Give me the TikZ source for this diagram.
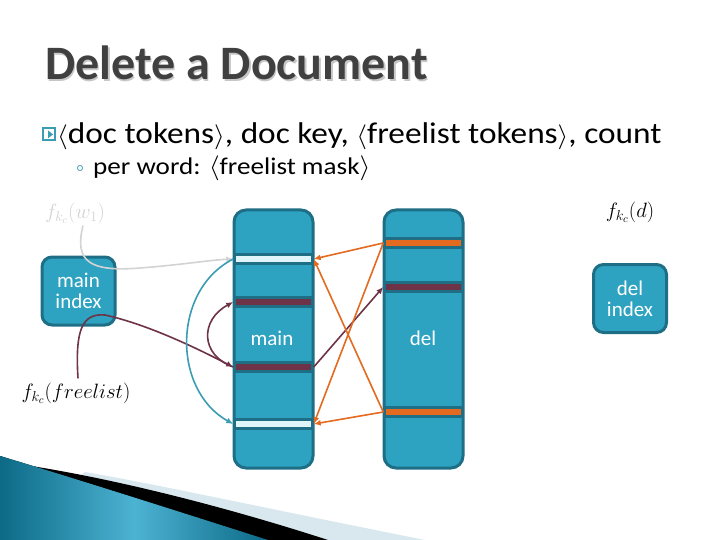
\documentclass[tikz,border=0pt]{standalone}
\usepackage{fontspec}
\setmainfont{Carlito}
\usetikzlibrary{arrows.meta}
\definecolor{tealfill}{HTML}{2DA2C1}
\definecolor{tealborder}{HTML}{1E6F86}
\definecolor{maroon}{HTML}{6E3346}
\definecolor{orangeC}{HTML}{E36A1F}
\definecolor{lightbar}{HTML}{E0F5FA}
\definecolor{tealcurve}{HTML}{3A9DB3}
\definecolor{graycurve}{HTML}{D3D3D3}
\definecolor{titlecol}{HTML}{404040}
\definecolor{swlight}{HTML}{D8E8EE}
\definecolor{swdark}{HTML}{0C6A86}
\definecolor{swmid}{HTML}{4DB3D3}
\tikzset{
  column/.style={draw=tealborder, fill=tealfill, line width=3pt, rounded corners=12pt, minimum width=79pt, minimum height=258pt, inner sep=0pt},
  idxbox/.style={draw=tealborder, fill=tealfill, line width=3pt, rounded corners=10pt, minimum width=73pt, minimum height=68pt, inner sep=0pt, text=white, align=center, font=\fontsize{21}{21}\selectfont},
  barL/.style={draw=tealborder, fill=lightbar, line width=2.5pt, minimum width=78pt, minimum height=9pt, inner sep=0pt},
  barM/.style={draw=tealborder, fill=maroon, line width=2.5pt, minimum width=78pt, minimum height=9pt, inner sep=0pt},
  barO/.style={draw=tealborder, fill=orangeC, line width=2.5pt, minimum width=78pt, minimum height=9pt, inner sep=0pt},
  conn/.style={line width=1.6pt, -{Latex[length=7pt,width=6pt]}},
  lbl/.style={font=\fontsize{22}{24}\selectfont, inner sep=0pt},
  titlefont/.style={font=\fontsize{48}{52}\selectfont\bfseries}
}
\begin{document}
\begin{tikzpicture}[x=1pt,y=-1pt]
\useasboundingbox (0,0) rectangle (720,540);
% swoosh
\fill[swlight] (85,472) .. controls (150,483) and (250,505) .. (425,540) -- (0,540) -- cycle;
\fill[black] (25,465) .. controls (110,478) and (220,505) .. (328,540) -- (0,540) -- (0,456) -- cycle;
\fill[left color=swdark, right color=swdark, middle color=swmid] (0,456) .. controls (80,480) and (180,512) .. (268,540) -- (0,540) -- cycle;
% title
\node[anchor=base west, inner sep=0pt, text=black!22, titlefont] at (46.5,81.5) {Delete a Document};
\node[anchor=base west, inner sep=0pt, text=titlecol, titlefont] (title) at (45,80) {Delete a Document};
% bullets
\node[draw=tealcurve, line width=1.2pt, minimum size=12pt, inner sep=0pt] (b1) at (49,134) {};
\fill[tealcurve] (b1.north) ++(-1,3) -- ++(5,4) -- ++(-5,4) -- cycle;
\node[anchor=base west, inner sep=0pt, font=\fontsize{30}{32}\selectfont, xscale=1.11] (t1) at (57,144) {$\langle$doc tokens$\rangle$, doc key, $\langle$freelist tokens$\rangle$, count};
\node[draw=tealcurve, circle, line width=0.8pt, minimum size=5pt, inner sep=0pt] (b2) at (80,168) {};
\node[anchor=base west, inner sep=0pt, font=\fontsize{24}{26}\selectfont, xscale=1.13] (t2) at (93,175) {per word: $\langle$freelist mask$\rangle$};
% columns
\node[column] (maincol) at (273.5,339) {};
\node[column] (delcol) at (423.5,339) {};
\node[text=white, font=\fontsize{21}{23}\selectfont, inner sep=0pt] (mainlbl) at (272,338) {main};
\node[text=white, font=\fontsize{21}{23}\selectfont, inner sep=0pt] (dellbl) at (423,338) {del};
% bars
\node[barL] (mL1) at (273.5,259) {};
\node[barM] (mM1) at (273.5,302) {};
\node[barM] (mM2) at (273.5,367) {};
\node[barL] (mL2) at (273.5,424) {};
\node[barO] (dO1) at (423.5,243) {};
\node[barM] (dM1) at (423.5,287) {};
\node[barO] (dO2) at (423.5,412) {};
% index boxes
\node[idxbox] (mainidx) at (78.5,291) {main\\index};
\node[idxbox] (delidx) at (630,298.5) {del\\index};
% labels
\node[lbl, text=graycurve] (fw) at (75,213) {$f_{k_c}(w_1)$};
\node[lbl] (fd) at (630,212) {$f_{k_c}(d)$};
\node[lbl, font=\fontsize{21}{23}\selectfont] (ff) at (76,393) {$f_{k_c}(freelist)$};
% connectors
\draw[conn, graycurve] (fw.south) ++(8,2) coordinate (gs) .. controls (74,262) and (90,272) .. (140,268) .. controls (180,265) and (210,260) .. (mL1.west);
\draw[conn, maroon] (ff.north) ++(2,-4) coordinate (fs) .. controls (75,330) and (82,313) .. (105,315) .. controls (150,325) and (200,350) .. (mM2.west);
\draw[conn, maroon] (mM2.west) .. controls (200,355) and (200,320) .. (mM1.west);
\draw[conn, tealcurve] (mL1.west) .. controls (172,290) and (172,390) .. (mL2.west);
\draw[conn, maroon] (mM2.east) -- (dM1.west);
\draw[conn, orangeC] (dO1.west) -- (mL1.east);
\draw[conn, orangeC] (dO1.west) -- (mL2.east);
\draw[conn, orangeC] (dO2.west) -- (mL1.east);
\draw[conn, orangeC] (dO2.west) -- (mL2.east);
\end{tikzpicture}
\end{document}
